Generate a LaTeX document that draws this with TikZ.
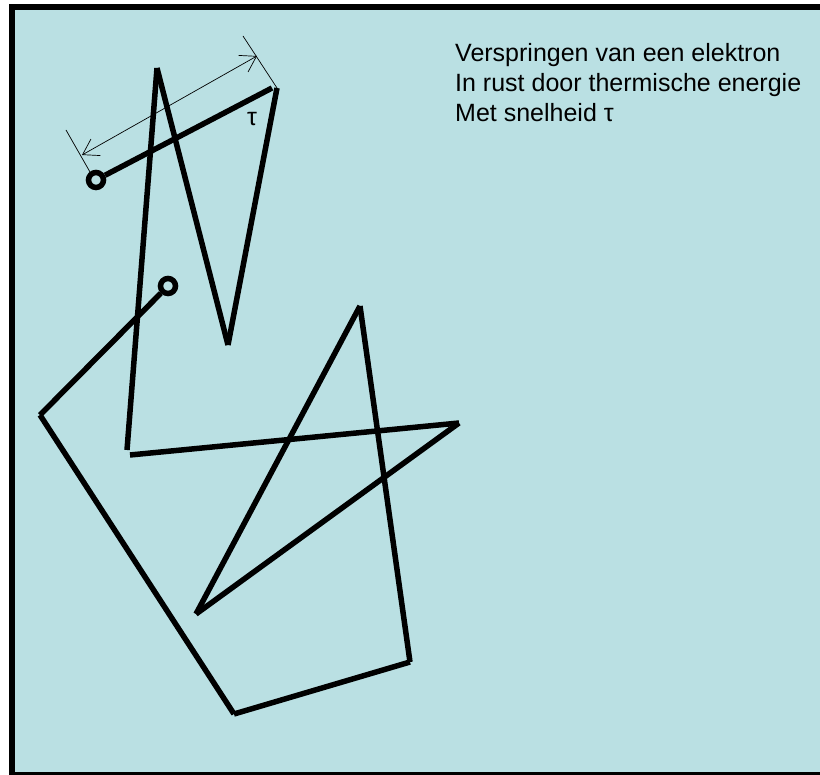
\documentclass[tikz,border=0pt]{standalone}
\usepackage{fontspec}
\setmainfont{Liberation Sans}
\usetikzlibrary{arrows.meta}
\definecolor{bgcyan}{RGB}{186,224,227}
\tikzset{
  thick line/.style={line width=5.5pt, line cap=butt, black},
  ring/.style={circle, draw=black, line width=5.5pt, minimum size=15pt, inner sep=0pt},
  dimline/.style={line width=0.7pt, black},
  dimarrow/.style={dimline, {Straight Barb[length=15pt,width=19pt,line width=0.7pt]}-{Straight Barb[length=15pt,width=19pt,line width=0.7pt]}},
  label text/.style={font=\fontsize{25}{30}\selectfont, inner sep=0pt}
}
\begin{document}
\begin{tikzpicture}[x=1pt,y=-1pt]
\useasboundingbox (0,0) rectangle (820,775);
% frame
\fill[black] (9,4) rectangle (820,775);
\fill[bgcyan] (15,10) rectangle (820,772);
% vertices
\coordinate (p0) at (272,88);
\coordinate (p1) at (277,88);
\coordinate (p2) at (228,345);
\coordinate (p3) at (157,68);
\coordinate (p4) at (127,450);
\coordinate (p5) at (130,455);
\coordinate (p6) at (459,423);
\coordinate (p7) at (196,614);
\coordinate (p8) at (360,306);
\coordinate (p9) at (410,662);
\coordinate (p10) at (234,714);
\coordinate (p11) at (40,415);
% rings
\node[ring] (r1) at (96,180) {};
\node[ring] (r2) at (168,286) {};
% zigzag path
\draw[thick line] (r1) -- (p0);
\draw[thick line] (p1) -- (p2);
\draw[thick line] (p2) -- (p3);
\draw[thick line] (p3) -- (p4);
\draw[thick line] (p5) -- (p6);
\draw[thick line] (p6) -- (p7);
\draw[thick line] (p7) -- (p8);
\draw[thick line] (p8) -- (p9);
\draw[thick line] (p9) -- (p10);
\draw[thick line] (p10) -- (p11);
\draw[thick line] (p11) -- (r2);
% dimension
\coordinate (e1a) at (66,130);
\coordinate (e1b) at (90,172);
\coordinate (e2a) at (243,36);
\coordinate (da) at (82,155);
\coordinate (db) at (257,56);
\draw[dimline] (e1a) -- (e1b);
\draw[dimline] (e2a) -- (p1);
\draw[dimarrow] (da) -- (db);
\node[label text, anchor=base west] (tau) at (247,126) {τ};
% text
\node[label text, anchor=base west] (txt1) at (455,62) {Verspringen van een elektron};
\node[label text, anchor=base west] (txt2) at (455,92) {In rust door thermische energie};
\node[label text, anchor=base west] (txt3) at (455,122) {Met snelheid τ};
\end{tikzpicture}
\end{document}
